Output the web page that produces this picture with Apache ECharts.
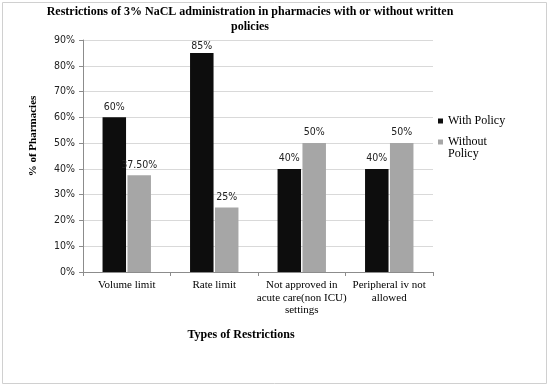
<!DOCTYPE html>
<html>
<head>
<meta charset="utf-8">
<script src="https://cdn.jsdelivr.net/npm/echarts@6/dist/echarts.min.js"></script>
<style>html,body{margin:0;padding:0;background:#fff;}#c{width:550px;height:387px;}</style>
</head>
<body>
<div id="c"></div>
<script>
const categories = ['Volume limit', 'Rate limit', 'Not approved in\nacute care(non ICU)\nsettings', 'Peripheral iv not\nallowed'];
const withPolicy = [60, 85, 40, 40];
const withoutPolicy = [37.5, 25, 50, 50];
const withLabels = ['60%', '85%', '40%', '40%'];
const withoutLabels = ['37.50%', '25%', '50%', '50%'];
const seriesNames = ['With Policy', 'Without Policy'];

const chart = echarts.init(document.getElementById('c'), null, {renderer: 'canvas'});
const serif = '"Liberation Serif", "Times New Roman", serif';
const sans = '"DejaVu Sans Condensed", "Liberation Sans", Arial, sans-serif';
const labelDist = v => (v >= 85 ? 1 : 5);
chart.setOption({
  animation: false,
  backgroundColor: '#fff',
  title: {
    text: 'Restrictions of 3% NaCL administration in pharmacies with or without written\npolicies',
    left: 250, top: 4, padding: 0, textAlign: 'center',
    textStyle: {fontFamily: serif, fontSize: 12, fontWeight: 'bold', color: '#000', lineHeight: 15}
  },
  legend: [
    {
      orient: 'vertical', left: 438, top: 114, padding: 0,
      itemWidth: 5, itemHeight: 5, icon: 'rect',
      data: [seriesNames[0]],
      textStyle: {fontFamily: serif, fontSize: 12, color: '#000', lineHeight: 14}
    },
    {
      orient: 'vertical', left: 438, top: 124, padding: 0,
      itemWidth: 5, itemHeight: 5, icon: 'rect',
      data: [seriesNames[1]],
      formatter: () => '\nWithout\nPolicy',
      textStyle: {fontFamily: serif, fontSize: 12, color: '#000', lineHeight: 12}
    }
  ],
  grid: {left: 83, right: 117, top: 40, bottom: 115},
  xAxis: {
    type: 'category', data: categories,
    axisLine: {lineStyle: {color: '#8c8c8c'}},
    axisTick: {show: true, length: 4, lineStyle: {color: '#8c8c8c'}},
    axisLabel: {fontFamily: serif, fontSize: 11, color: '#000', lineHeight: 12.5, margin: 7, interval: 0}
  },
  yAxis: {
    type: 'value', min: 0, max: 90, interval: 10,
    axisLine: {show: true, lineStyle: {color: '#8c8c8c'}},
    axisTick: {show: true, length: 4, lineStyle: {color: '#8c8c8c'}},
    axisLabel: {formatter: '{value}%', fontFamily: sans, fontSize: 10.5, color: '#222', margin: 8},
    splitLine: {lineStyle: {color: '#d9d9d9'}}
  },
  graphic: [
    {type: 'rect', shape: {x: 2.5, y: 2.5, width: 544, height: 381}, style: {fill: 'none', stroke: '#d0d0d0', lineWidth: 1}, z: -1},
    {type: 'text', x: 241, y: 335, style: {text: 'Types of Restrictions', fontFamily: serif, fontSize: 12, fontWeight: 'bold', fill: '#000', textAlign: 'center', textVerticalAlign: 'middle'}},
    {type: 'text', x: 33, y: 136, rotation: Math.PI / 2, style: {text: '% of Pharmacies', fontFamily: serif, fontSize: 11, fontWeight: 'bold', fill: '#000', textAlign: 'center', textVerticalAlign: 'middle'}}
  ],
  series: [
    {
      name: seriesNames[0], type: 'bar', barWidth: 23.5, barGap: '6%',
      data: withPolicy.map(v => ({value: v, label: {distance: labelDist(v)}})),
      itemStyle: {color: '#0d0d0d'},
      label: {show: true, position: 'top', fontFamily: sans, fontSize: 10.5, color: '#222', formatter: p => withLabels[p.dataIndex]}
    },
    {
      name: seriesNames[1], type: 'bar', barWidth: 23.5,
      data: withoutPolicy.map(v => ({value: v, label: {distance: labelDist(v)}})),
      itemStyle: {color: '#a6a6a6'},
      label: {show: true, position: 'top', fontFamily: sans, fontSize: 10.5, color: '#222', formatter: p => withoutLabels[p.dataIndex]}
    }
  ]
});
</script>
</body>
</html>
